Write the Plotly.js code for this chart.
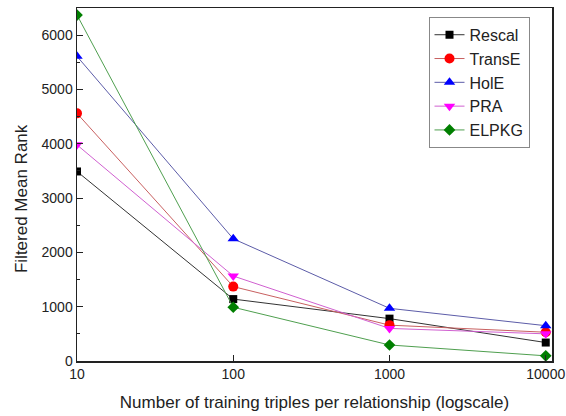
<!DOCTYPE html>
<html>
<head>
<meta charset="utf-8">
<script src="https://cdn.plot.ly/plotly-3.0.1.min.js"></script>
<style>
  html, body { margin: 0; padding: 0; background: #ffffff; }
  #chart { width: 566px; height: 416px; }
</style>
</head>
<body>
<div id="chart"></div>
<script>
// Training set sizes (triples per relationship)
const trainingSizes = [10, 100, 1000, 10000];

// Filtered mean rank for each method
const rescal = [3490, 1140, 780, 340];
const transE = [4560, 1370, 660, 530];
const holE   = [5610, 2250, 970, 650];
const pra    = [3980, 1565, 600, 500];
const elpkg  = [6370, 990, 295, 95];

const seriesNames = ['Rescal', 'TransE', 'HolE', 'PRA', 'ELPKG'];
const seriesValues = [rescal, transE, holE, pra, elpkg];
const lineColors = ['#333333', '#c86060', '#5c5ca8', '#d060d0', '#4f9f4f'];
const markerColors = ['#000000', '#ff0000', '#0000ff', '#ff00ff', '#007f00'];
const markerSymbols = ['square', 'circle', 'triangle-up', 'triangle-down', 'diamond'];
const markerSizes = [8, 10, 10, 10, 9];

const traces = seriesNames.map((name, i) => ({
  type: 'scatter',
  mode: 'lines+markers',
  name: name,
  x: trainingSizes,
  y: seriesValues[i],
  line: { color: lineColors[i], width: 1 },
  marker: { color: markerColors[i], symbol: markerSymbols[i], size: markerSizes[i] }
}));

const layout = {
  width: 566,
  height: 416,
  margin: { l: 77, r: 14, t: 8, b: 55 },
  paper_bgcolor: '#ffffff',
  plot_bgcolor: '#ffffff',
  font: { family: 'Liberation Sans, Arial, sans-serif', color: '#222222' },
  showlegend: true,
  legend: {
    x: 0.74, y: 0.975, xanchor: 'left', yanchor: 'top',
    bgcolor: '#ffffff', bordercolor: '#888888', borderwidth: 1,
    font: { size: 16, color: '#222222' },
    tracegroupgap: 0
  },
  xaxis: {
    type: 'log',
    range: [1, 4.04],
    tickvals: trainingSizes,
    ticktext: trainingSizes.map(String),
    ticks: 'inside', ticklen: 6, tickwidth: 1, tickcolor: '#222222',
    ticklabeloverflow: 'allow',
    showline: true, linecolor: '#222222', linewidth: 1.5, mirror: true,
    showgrid: false, zeroline: false,
    tickfont: { size: 14 },
    title: { text: 'Number of training triples per relationship (logscale)', font: { size: 17 }, standoff: 15 }
  },
  yaxis: {
    range: [0, 6500],
    tickvals: [0, 1000, 2000, 3000, 4000, 5000, 6000],
    ticks: 'inside', ticklen: 6, tickwidth: 1, tickcolor: '#222222',
    minor: { dtick: 500, ticks: 'inside', ticklen: 3, tickcolor: '#222222', showgrid: false },
    showline: true, linecolor: '#222222', linewidth: 1.5, mirror: true,
    showgrid: false, zeroline: false,
    tickfont: { size: 14 }
  },
  annotations: [{
    text: 'Filtered Mean Rank',
    xref: 'paper', yref: 'paper',
    x: -0.117, y: 0.46,
    xanchor: 'center', yanchor: 'middle',
    textangle: -90,
    showarrow: false,
    font: { size: 17, color: '#222222' }
  }]
};

Plotly.newPlot('chart', traces, layout, { displayModeBar: false, staticPlot: true });
</script>
</body>
</html>
